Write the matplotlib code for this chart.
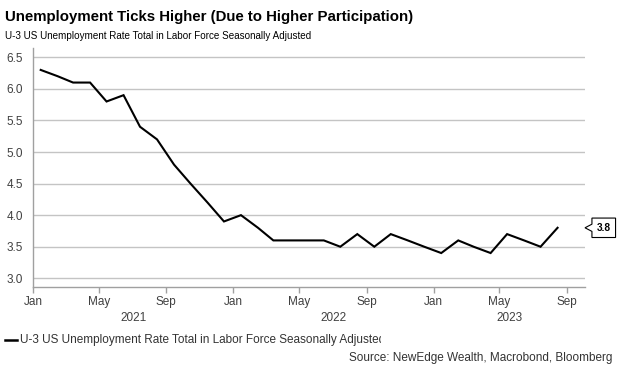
import matplotlib
matplotlib.use("Agg")
import matplotlib.pyplot as plt
import matplotlib.dates as mdates
import matplotlib.transforms as mtransforms
from matplotlib.patches import Polygon, Rectangle
import pandas as pd

plt.rcParams["font.family"] = ["Liberation Sans", "DejaVu Sans"]

TITLE = "Unemployment Ticks Higher (Due to Higher Participation)"
SUBTITLE = "U-3 US Unemployment Rate Total in Labor Force Seasonally Adjusted"
SERIES = "U-3 US Unemployment Rate Total in Labor Force Seasonally Adjusted"
SOURCE = "Source: NewEdge Wealth, Macrobond, Bloomberg"

start_month = "2021-01-01"
rate = [6.3, 6.2, 6.1, 6.1, 5.8, 5.9, 5.4, 5.2, 4.8, 4.5, 4.2, 3.9,
        4.0, 3.8, 3.6, 3.6, 3.6, 3.6, 3.5, 3.7, 3.5, 3.7, 3.6, 3.5,
        3.4, 3.6, 3.5, 3.4, 3.7, 3.6, 3.5, 3.8]
y_ticks = [3.0, 3.5, 4.0, 4.5, 5.0, 5.5, 6.0, 6.5]
years = [2021, 2022, 2023]

dates = pd.date_range(start_month, periods=len(rate), freq="MS") + pd.Timedelta(days=14)
x_lo, x_hi = pd.Timestamp("2021-01-01"), pd.Timestamp("2023-10-04")

fig = plt.figure(figsize=(6.23, 3.76), dpi=100)
ax = fig.add_axes([0.053, 0.2375, 0.886, 0.6348])

ax.plot(dates, rate, color="black", lw=1.5, solid_joinstyle="miter")
ax.set_xlim(x_lo, x_hi)
ax.set_ylim(2.867, 6.647)
ax.set_yticks(y_ticks)
ax.set_yticklabels([f"{v:.1f}" for v in y_ticks])
ax.grid(axis="y", color="#c4c4c4", lw=1.0)
ax.set_axisbelow(True)

ax.xaxis.set_major_locator(mdates.MonthLocator(bymonth=[1, 5, 9]))
ax.xaxis.set_major_formatter(mdates.DateFormatter("%b"))
for s in ["top", "right"]:
    ax.spines[s].set_visible(False)
for s in ["left", "bottom"]:
    ax.spines[s].set_color("#a0a0a0")
    ax.spines[s].set_linewidth(1.0)
ax.tick_params(axis="y", length=0, pad=7, labelsize=8.5, labelcolor="#404040")
ax.tick_params(axis="x", length=4, width=1, color="#a0a0a0", pad=3,
               labelsize=8.5, labelcolor="#404040")

# year labels centred on the visible part of each year
tr = mtransforms.blended_transform_factory(ax.transData, ax.transAxes)
for yr in years:
    a = max(pd.Timestamp(f"{yr}-01-01"), x_lo)
    b = min(pd.Timestamp(f"{yr + 1}-01-01"), x_hi)
    mid = a + (b - a) / 2
    ax.text(mdates.date2num(mid), -0.13, str(yr), transform=tr, ha="center",
            va="center", fontsize=8.5, color="#404040")

# last-value callout, anchored at the right edge at the last value
last_y = rate[-1]
anchor = mtransforms.blended_transform_factory(ax.transAxes, ax.transData)
pts = mtransforms.Affine2D().scale(fig.dpi / 72.0) + \
    mtransforms.ScaledTranslation(1.0, last_y, anchor)
w, h, n = 17.0, 14.0, 5.0
shape = [(0, 0), (n, 2.6), (n, h / 2), (n + w, h / 2), (n + w, -h / 2),
         (n, -h / 2), (n, -2.6)]
ax.add_patch(Polygon(shape, closed=True, transform=pts, facecolor="white",
                     edgecolor="black", lw=0.8, clip_on=False))
ax.text(n + w / 2, 0, f"{last_y:.1f}", transform=pts, ha="center", va="center",
        fontsize=7.3, fontweight="bold", color="black", clip_on=False)

fig.text(0.008, 0.955, TITLE, fontsize=10.8, fontweight="bold", color="black",
         ha="left", va="center")
fig.text(0.008, 0.905, SUBTITLE, fontsize=7.1, color="black", ha="left", va="center")

fig.add_artist(plt.Line2D([0.008, 0.027], [0.095, 0.095], color="black",
                          lw=1.8, transform=fig.transFigure))
legend_text = fig.text(0.032, 0.095, SERIES, fontsize=8.5, color="#333333",
                       ha="left", va="center")
legend_text.set_clip_path(Rectangle((0, 0), 0.611, 1, transform=fig.transFigure))

fig.text(0.983, 0.048, SOURCE, fontsize=8.5, color="#333333", ha="right", va="center")

fig.savefig("out.png", dpi=100)
